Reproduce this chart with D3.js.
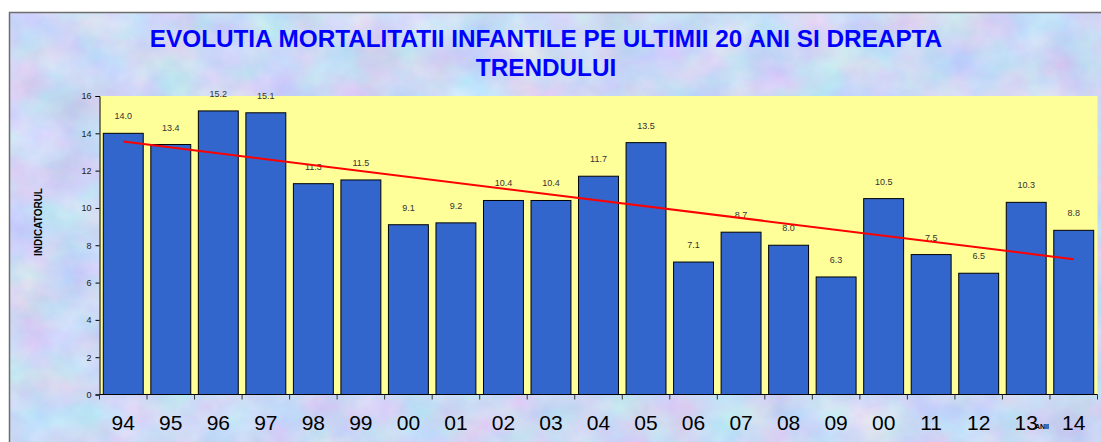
<!DOCTYPE html>
<html>
<head>
<meta charset="utf-8">
<script src="https://cdn.jsdelivr.net/npm/d3@7"></script>
<style>
  html, body { margin: 0; padding: 0; background: #fff; }
  svg { display: block; font-family: Arial, 'Liberation Sans', sans-serif; }
</style>
</head>
<body>
<div id="chart"></div>
<script>
// years shown on the axis (the reference repeats "00" for 2010)
var yearLabels = ['94', '95', '96', '97', '98', '99', '00', '01', '02', '03', '04', '05', '06', '07', '08', '09', '00', '11', '12', '13', '14']
var mortality = [14.0, 13.4, 15.2, 15.1, 11.3, 11.5, 9.1, 9.2, 10.4, 10.4, 11.7, 13.5, 7.1, 8.7, 8.0, 6.3, 10.5, 7.5, 6.5, 10.3, 8.8]
var yTicks = [0, 2, 4, 6, 8, 10, 12, 14, 16]

var titleLines = ['EVOLUTIA MORTALITATII INFANTILE PE ULTIMII 20 ANI SI DREAPTA', 'TRENDULUI']

let width = 1101
let height = 442
let margin = { top: 96, left: 99.5, right: 3.5, bottom: 47.5 }

let svg = d3
  .select('#chart')
  .append('svg')
  .attr('width', width)
  .attr('height', height)

// pastel marble background
let defs = svg.append('defs')
let filter = defs
  .append('filter')
  .attr('id', 'marble')
  .attr('x', 0)
  .attr('y', 0)
  .attr('width', '100%')
  .attr('height', '100%')
  .attr('color-interpolation-filters', 'sRGB')
filter
  .append('feTurbulence')
  .attr('type', 'fractalNoise')
  .attr('baseFrequency', '0.02 0.025')
  .attr('numOctaves', 4)
  .attr('seed', 7)
filter
  .append('feColorMatrix')
  .attr('type', 'matrix')
  .attr('values', [
    '0.26 0 0 0 0.67',
    '0 0.2 0 0 0.75',
    '0 0 0.1 0 0.91',
    '0 0 0 0 1'
  ].join(' '))

svg
  .append('rect')
  .attr('x', 9)
  .attr('y', 12)
  .attr('width', width - 9)
  .attr('height', height - 12)
  .attr('filter', 'url(#marble)')

svg
  .append('rect')
  .attr('x', 9.5)
  .attr('y', 12.5)
  .attr('width', width + 10)
  .attr('height', height + 10)
  .attr('fill', 'none')
  .attr('stroke', '#6e6e6e')
  .attr('stroke-width', 1.5)

// title
svg
  .selectAll('.title')
  .data(titleLines)
  .enter()
  .append('text')
  .attr('class', 'title')
  .attr('x', 546)
  .attr('y', (d, i) => 47 + i * 29)
  .attr('text-anchor', 'middle')
  .attr('font-size', 24.3)
  .attr('font-weight', 'bold')
  .attr('fill', '#0000ff')
  .text(d => d)

let x = d3
  .scaleBand()
  .domain(d3.range(mortality.length))
  .range([margin.left, width - margin.right])
  .paddingInner(0.16)
  .paddingOuter(0.08)

let y = d3
  .scaleLinear()
  .domain([0, 16])
  .range([height - margin.bottom, margin.top])

// plot area
svg
  .append('rect')
  .attr('x', margin.left)
  .attr('y', y(16))
  .attr('width', width - margin.right - margin.left)
  .attr('height', y(0) - y(16))
  .attr('fill', '#ffff99')

// bars
svg
  .selectAll('.bar')
  .data(mortality)
  .enter()
  .append('rect')
  .attr('class', 'bar')
  .attr('x', (d, i) => x(i))
  .attr('y', d => y(d))
  .attr('width', x.bandwidth())
  .attr('height', d => y(0) - y(d))
  .attr('fill', '#3366cc')
  .attr('stroke', '#000')
  .attr('stroke-width', 1)

// value labels
svg
  .selectAll('.value')
  .data(mortality)
  .enter()
  .append('text')
  .attr('class', 'value')
  .attr('x', (d, i) => x(i) + x.bandwidth() / 2)
  .attr('y', d => y(d) - 14)
  .attr('text-anchor', 'middle')
  .attr('font-size', 9)
  .attr('fill', '#333')
  .text(d => d3.format('.1f')(d))

// linear trend (least squares on the values)
let xs = d3.range(mortality.length)
let xMean = d3.mean(xs)
let yMean = d3.mean(mortality)
let slope =
  d3.sum(xs, i => (i - xMean) * (mortality[i] - yMean)) /
  d3.sum(xs, i => (i - xMean) * (i - xMean))
let trend = [0, mortality.length - 1].map(i => [i, yMean + slope * (i - xMean)])

svg
  .append('path')
  .datum(trend)
  .attr('d', d3.line()
    .x(d => x(d[0]) + x.bandwidth() / 2)
    .y(d => y(d[1])))
  .attr('stroke', '#ff0000')
  .attr('stroke-width', 2)
  .attr('fill', 'none')

// y axis
let yAxis = d3
  .axisLeft(y)
  .tickValues(yTicks)
  .tickSize(4)
  .tickPadding(4)

svg
  .append('g')
  .attr('transform', `translate(${margin.left}, 0)`)
  .call(yAxis)
  .call(g => g.select('.domain').attr('stroke', '#000').attr('stroke-width', 1))
  .call(g => g.selectAll('text').attr('font-size', 9).attr('fill', '#222').attr('font-family', 'Arial, Liberation Sans, sans-serif'))

// x axis line with ticks at category boundaries
let step = x.step()
let boundaries = d3.range(mortality.length + 1).map(i => margin.left + i * step)

svg
  .append('line')
  .attr('x1', margin.left)
  .attr('x2', width - margin.right)
  .attr('y1', y(0))
  .attr('y2', y(0))
  .attr('stroke', '#000')
  .attr('stroke-width', 1.2)

svg
  .selectAll('.xtick')
  .data(boundaries)
  .enter()
  .append('line')
  .attr('class', 'xtick')
  .attr('x1', d => d)
  .attr('x2', d => d)
  .attr('y1', y(0))
  .attr('y2', y(0) + 5)
  .attr('stroke', '#333')
  .attr('stroke-width', 1)

svg
  .selectAll('.xlabel')
  .data(yearLabels)
  .enter()
  .append('text')
  .attr('class', 'xlabel')
  .attr('x', (d, i) => x(i) + x.bandwidth() / 2)
  .attr('y', 430)
  .attr('text-anchor', 'middle')
  .attr('font-size', 21)
  .attr('fill', '#000')
  .text(d => d)

// axis titles
svg
  .append('text')
  .attr('transform', 'translate(42, 222) rotate(-90)')
  .attr('text-anchor', 'middle')
  .attr('font-size', 10)
  .attr('font-weight', 'bold')
  .attr('fill', '#000')
  .text('INDICATORUL')

svg
  .append('text')
  .attr('x', 1042)
  .attr('y', 429)
  .attr('text-anchor', 'middle')
  .attr('font-size', 7)
  .attr('font-weight', 'bold')
  .attr('fill', '#000')
  .text('ANII')
</script>
</body>
</html>
